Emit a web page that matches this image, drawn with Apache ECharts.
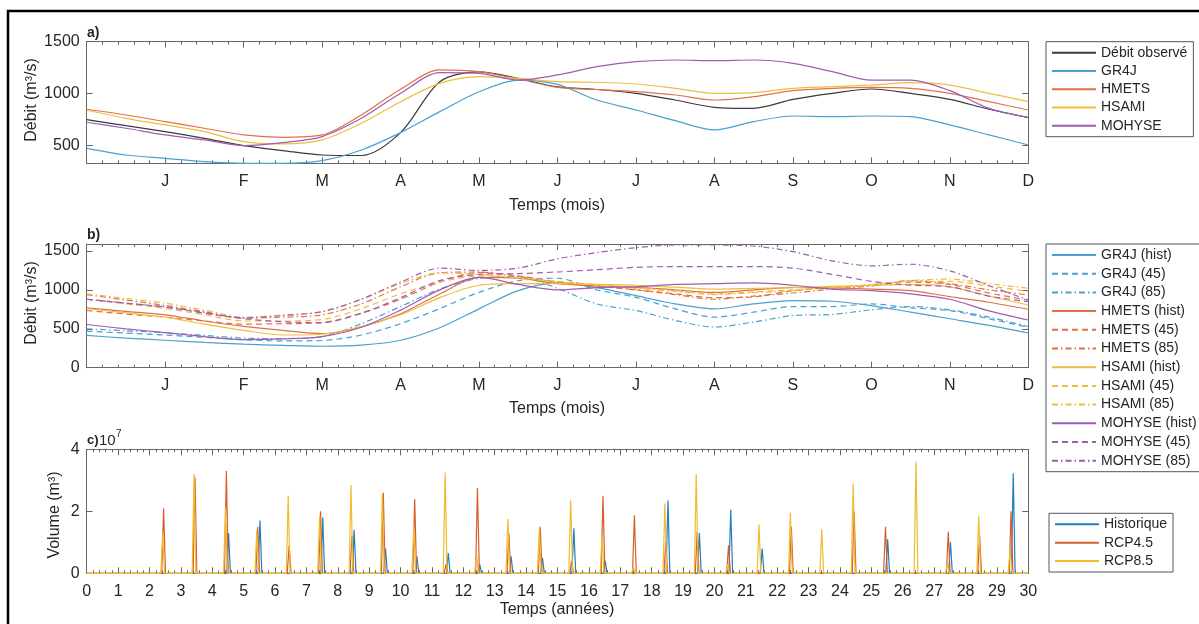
<!DOCTYPE html>
<html>
<head>
<meta charset="utf-8">
<script src="https://cdn.jsdelivr.net/npm/echarts@6.0.0/dist/echarts.min.js"></script>
<style>
  html, body { margin: 0; padding: 0; background: #fff; }
  #chart { width: 1199px; height: 624px; }
</style>
</head>
<body>
<div id="chart"></div>
<script>
// position (en mois) des points lus sur les courbes a) et b)
var monthPos = [0, 0.5, 1, 1.5, 2, 2.5, 3, 3.5, 4, 4.5, 5, 5.5, 6, 6.5, 7, 7.5, 8, 8.5, 9, 9.5, 10, 10.5, 11, 11.5, 12];
var monthLabels = ['J', 'F', 'M', 'A', 'M', 'J', 'J', 'A', 'S', 'O', 'N', 'D'];

// a) débits moyens (m3/s)
var obsA    = [750, 692, 635, 570, 500, 452, 410, 405, 625, 1115, 1210, 1147, 1065, 1040, 1003, 939, 869, 859, 945, 1003, 1045, 1003, 945, 850, 770];
var gr4jA   = [474, 410, 378, 346, 330, 330, 356, 458, 625, 827, 1019, 1131, 1090, 939, 843, 740, 651, 731, 785, 779, 785, 779, 699, 603, 506];
var hmetsA  = [850, 795, 731, 667, 603, 580, 603, 795, 1042, 1228, 1212, 1141, 1061, 1040, 1019, 987, 939, 971, 1029, 1051, 1061, 1051, 1003, 923, 843];
var hsamiA  = [843, 763, 699, 635, 538, 516, 555, 715, 923, 1099, 1163, 1147, 1115, 1110, 1093, 1051, 1003, 1010, 1051, 1067, 1083, 1106, 1083, 1003, 923];
var mohyseA = [725, 667, 603, 555, 500, 529, 587, 763, 1003, 1202, 1196, 1131, 1180, 1260, 1308, 1324, 1317, 1324, 1292, 1212, 1131, 1131, 1029, 859, 772];

// b) historique / RCP4.5 / RCP8.5
var gr4jHist   = [415, 380, 353, 325, 302, 288, 276, 290, 353, 514, 756, 990, 1090, 1030, 926, 820, 756, 820, 862, 854, 799, 714, 629, 544, 446];
var gr4j45     = [470, 445, 420, 390, 360, 345, 350, 420, 565, 760, 969, 1118, 1150, 1000, 905, 756, 650, 714, 786, 786, 820, 769, 735, 629, 519];
var gr4j85     = [500, 475, 450, 415, 380, 375, 400, 565, 786, 1011, 1147, 1170, 1020, 820, 735, 608, 523, 587, 671, 684, 744, 786, 744, 650, 530];
var hmetsHist  = [770, 725, 680, 600, 531, 480, 438, 523, 693, 948, 1160, 1150, 1080, 1050, 1033, 1000, 969, 1000, 1033, 1025, 1011, 990, 914, 841, 751];
var hmets45    = [735, 690, 650, 600, 560, 565, 580, 700, 880, 1100, 1224, 1180, 1100, 1050, 1000, 950, 900, 910, 990, 1030, 1060, 1100, 1070, 960, 870];
var hmets85    = [940, 870, 800, 720, 640, 650, 680, 820, 1040, 1220, 1230, 1170, 1100, 1050, 1000, 940, 880, 920, 960, 1010, 1050, 1120, 1080, 1000, 935];
var hsamiHist  = [760, 705, 650, 560, 480, 420, 430, 530, 680, 900, 1060, 1080, 1080, 1070, 1060, 1035, 1010, 1020, 1030, 1045, 1060, 1070, 1040, 920, 806];
var hsami45    = [880, 820, 760, 680, 600, 600, 620, 760, 950, 1100, 1180, 1160, 1110, 1070, 1030, 990, 950, 975, 1000, 1030, 1060, 1110, 1110, 1050, 982];
var hsami85    = [950, 890, 830, 740, 650, 680, 720, 880, 1080, 1220, 1200, 1150, 1100, 1060, 1020, 980, 940, 965, 990, 1030, 1070, 1120, 1140, 1080, 1021];
var mohyseHist = [555, 500, 450, 400, 360, 370, 400, 520, 740, 1000, 1160, 1070, 1000, 1030, 1040, 1070, 1080, 1090, 1060, 1010, 990, 950, 880, 730, 613];
var mohyse45   = [880, 830, 780, 700, 630, 590, 580, 700, 900, 1120, 1200, 1210, 1230, 1260, 1290, 1300, 1300, 1300, 1280, 1200, 1110, 1060, 1040, 920, 850];
var mohyse85   = [880, 830, 780, 710, 640, 670, 720, 880, 1100, 1280, 1250, 1280, 1400, 1479, 1543, 1577, 1577, 1564, 1492, 1373, 1309, 1330, 1245, 1054, 870];

// c) pointes annuelles de volume (x 10^7 m3), une par année 0..29
var yearStart = [0, 1, 2, 3, 4, 5, 6, 7, 8, 9, 10, 11, 12, 13, 14, 15, 16, 17, 18, 19, 20, 21, 22, 23, 24, 25, 26, 27, 28, 29];
var histPeak  = [0, 0, 0, 0, 1.3, 1.7, 0, 1.8, 1.4, 0.8, 0.55, 0.65, 0.3, 0.55, 0.5, 1.45, 0.4, 0, 2.35, 1.3, 2.05, 0.8, 0, 0, 0, 1.1, 0, 1.0, 0, 3.23];
var rcp45Peak = [0, 0, 2.1, 3.1, 3.3, 1.5, 0.9, 2.0, 1.2, 2.6, 2.4, 0.3, 2.75, 1.3, 1.5, 0.4, 2.5, 1.87, 1.0, 1.35, 0.9, 0, 1.5, 0, 2.0, 1.5, 0, 1.34, 1.2, 2.0];
var rcp85Peak = [0, 0, 1.3, 3.2, 2.1, 1.4, 2.5, 1.85, 2.85, 2.55, 1.5, 3.25, 0.6, 1.75, 1.4, 2.35, 1.2, 0.2, 2.25, 3.2, 0.3, 1.57, 1.95, 1.41, 2.9, 0, 3.6, 0.3, 1.85, 0.8];
var histPhase = 0.52, rcp45Phase = 0.45, rcp85Phase = 0.42; // moment de la crue dans l'année

var font = 'Liberation Sans, Arial, sans-serif';
var axisColor = '#666';
var textColor = '#262626';
var cBlue = '#4aa0d0', cRed = '#e0704a', cYellow = '#edbd3c', cPurple = '#a05cb0';

function pairs(xs, ys) {
  return xs.map(function (x, i) { return [x, ys[i]]; });
}

// pointe triangulaire autour de chaque crue lue
function spikes(peaks, phase) {
  var pts = [[0, 0]];
  peaks.forEach(function (p, i) {
    if (p > 0) {
      var t = yearStart[i] + phase;
      pts.push([t - 0.06, 0], [t, p], [t + 0.06, 0]);
    }
  });
  pts.push([30, 0]);
  return pts;
}

function line(name, data, color, dash, axis, smooth) {
  return {
    name: name, type: 'line', data: data,
    xAxisIndex: axis * 2, yAxisIndex: axis * 2,
    symbol: 'none', showSymbol: false, smooth: smooth,
    lineStyle: { color: color, width: 1.2, type: dash },
    itemStyle: { color: color },
    emphasis: { disabled: true },
    animation: false
  };
}

function xAxes(grid, max, fmt) {
  var res = [];
  ['bottom', 'top'].forEach(function (pos) {
    res.push({
      type: 'value', gridIndex: grid, position: pos, min: 0, max: max, interval: 1,
      axisLine: { show: true, onZero: false, lineStyle: { color: axisColor, width: 1 } },
      axisTick: { show: true, inside: true, length: 6, lineStyle: { color: axisColor } },
      minorTick: { show: true, splitNumber: 5, length: 3, lineStyle: { color: axisColor } },
      splitLine: { show: false },
      axisLabel: {
        show: pos === 'bottom', margin: 10, fontSize: 16, color: textColor,
        fontFamily: font, formatter: fmt
      }
    });
  });
  return res;
}

function yAxes(grid, min, max, vals, rightVals) {
  var res = [];
  ['left', 'right'].forEach(function (pos) {
    var tv = pos === 'left' ? vals : rightVals;
    res.push({
      type: 'value', gridIndex: grid, position: pos, min: min, max: max,
      axisLine: { show: true, onZero: false, lineStyle: { color: axisColor, width: 1 } },
      axisTick: { show: true, inside: true, length: 6, customValues: tv, lineStyle: { color: axisColor } },
      splitLine: { show: false },
      axisLabel: {
        show: pos === 'left', customValues: vals, margin: 7, fontSize: 16,
        color: textColor, fontFamily: font,
        formatter: function (v) { return String(v); }
      }
    });
  });
  return res;
}

function legend(names, top, gap) {
  return {
    data: names, orient: 'vertical', left: 1046, top: top,
    itemWidth: 44, itemHeight: 14, itemGap: gap,
    padding: [4, 6, 4, 5],
    borderColor: '#555', borderWidth: 1, backgroundColor: '#fff',
    selectedMode: false,
    itemStyle: { opacity: 0 },
    textStyle: { fontSize: 14, lineHeight: 14, color: textColor, fontFamily: font }
  };
}

function label(text, x, y, size, weight, rot) {
  return {
    type: 'text', x: x, y: y, rotation: rot || 0, silent: true,
    style: {
      text: text, fill: textColor, font: (weight || 'normal') + ' ' + size + 'px ' + font,
      align: rot ? 'center' : 'left', textAlign: rot ? 'center' : 'left',
      verticalAlign: 'middle', textVerticalAlign: 'middle'
    }
  };
}

function centered(text, x, y) {
  var g = label(text, x, y, 16);
  g.style.align = 'center';
  g.style.textAlign = 'center';
  return g;
}

var dashS = 'solid', dashD = [6, 4], dashDD = [6, 3, 1.5, 3];

var chart = echarts.init(document.getElementById('chart'));
chart.setOption({
  backgroundColor: '#fff',
  animation: false,
  grid: [
    { left: 86.7, top: 41.7, width: 941.6, height: 121.6 },
    { left: 86.7, top: 244, width: 941.6, height: 123.7 },
    { left: 86.7, top: 449.3, width: 941.6, height: 124 }
  ],
  xAxis: [].concat(
    xAxes(0, 12, function (v) { return monthLabels[v - 1] || ''; }),
    xAxes(1, 12, function (v) { return monthLabels[v - 1] || ''; }),
    xAxes(2, 30, function (v) { return String(v); })
  ),
  yAxis: [].concat(
    yAxes(0, 330, 1500, [500, 1000, 1500], [500, 1000]),
    yAxes(1, 0, 1590, [0, 500, 1000, 1500], [500, 1000, 1500]),
    yAxes(2, 0, 4, [0, 2, 4], [2])
  ),
  legend: [
    legend(['Débit observé', 'GR4J', 'HMETS', 'HSAMI', 'MOHYSE'], 41.7, 4.25),
    legend(['GR4J (hist)', 'GR4J (45)', 'GR4J (85)', 'HMETS (hist)', 'HMETS (45)', 'HMETS (85)',
            'HSAMI (hist)', 'HSAMI (45)', 'HSAMI (85)', 'MOHYSE (hist)', 'MOHYSE (45)', 'MOHYSE (85)'], 244, 4.7),
    Object.assign(legend(['Historique', 'RCP4.5', 'RCP8.5'], 513.3, 4.35), { left: 1049 })
  ],
  graphic: [
    { type: 'rect', silent: true, shape: { x: 8, y: 11, width: 1300, height: 900 },
      style: { fill: 'none', stroke: '#000', lineWidth: 2.5 } },
    label('a)', 87, 33, 14, 'bold'),
    label('b)', 87, 235, 14, 'bold'),
    label('c)', 87, 440, 13, 'bold'),
    label('10', 99, 441, 15),
    label('7', 116, 434, 10),
    label('Débit (m³/s)', 32, 100, 16, 'normal', Math.PI / 2),
    label('Débit (m³/s)', 32, 303, 16, 'normal', Math.PI / 2),
    label('Volume (m³)', 55, 515, 16, 'normal', Math.PI / 2),
    centered('Temps (mois)', 557, 206),
    centered('Temps (mois)', 557, 409),
    centered('Temps (années)', 557, 610)
  ],
  series: [
    line('Débit observé', pairs(monthPos, obsA), '#3a3a3a', dashS, 0, 0.3),
    line('GR4J', pairs(monthPos, gr4jA), cBlue, dashS, 0, 0.3),
    line('HMETS', pairs(monthPos, hmetsA), cRed, dashS, 0, 0.3),
    line('HSAMI', pairs(monthPos, hsamiA), cYellow, dashS, 0, 0.3),
    line('MOHYSE', pairs(monthPos, mohyseA), cPurple, dashS, 0, 0.3),

    line('GR4J (hist)', pairs(monthPos, gr4jHist), cBlue, dashS, 1, 0.3),
    line('GR4J (45)', pairs(monthPos, gr4j45), cBlue, dashD, 1, 0.3),
    line('GR4J (85)', pairs(monthPos, gr4j85), cBlue, dashDD, 1, 0.3),
    line('HMETS (hist)', pairs(monthPos, hmetsHist), cRed, dashS, 1, 0.3),
    line('HMETS (45)', pairs(monthPos, hmets45), cRed, dashD, 1, 0.3),
    line('HMETS (85)', pairs(monthPos, hmets85), cRed, dashDD, 1, 0.3),
    line('HSAMI (hist)', pairs(monthPos, hsamiHist), cYellow, dashS, 1, 0.3),
    line('HSAMI (45)', pairs(monthPos, hsami45), cYellow, dashD, 1, 0.3),
    line('HSAMI (85)', pairs(monthPos, hsami85), cYellow, dashDD, 1, 0.3),
    line('MOHYSE (hist)', pairs(monthPos, mohyseHist), cPurple, dashS, 1, 0.3),
    line('MOHYSE (45)', pairs(monthPos, mohyse45), cPurple, dashD, 1, 0.3),
    line('MOHYSE (85)', pairs(monthPos, mohyse85), cPurple, dashDD, 1, 0.3),

    line('Historique', spikes(histPeak, histPhase), '#1f7fbf', dashS, 2, false),
    line('RCP4.5', spikes(rcp45Peak, rcp45Phase), '#d95d2c', dashS, 2, false),
    line('RCP8.5', spikes(rcp85Peak, rcp85Phase), '#efbc2d', dashS, 2, false)
  ]
});
</script>
</body>
</html>
